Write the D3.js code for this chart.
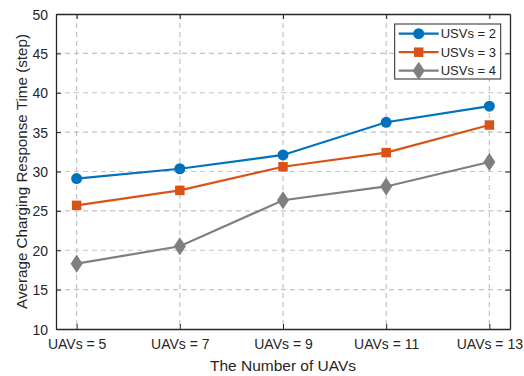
<!DOCTYPE html>
<html>
<head>
<meta charset="utf-8">
<script src="https://cdn.jsdelivr.net/npm/d3@7"></script>
<style>
  body { margin: 0; background: #fff; }
  text { font-family: "Liberation Sans", Arial, sans-serif; fill: #262626; }
</style>
</head>
<body>
<div id="chart"></div>
<script>
// data
var uavCounts = [5, 7, 9, 11, 13];
var tickLabels = ["UAVs = 5", "UAVs = 7", "UAVs = 9", "UAVs = 11", "UAVs = 13"];
var usv2 = [29.1, 30.35, 32.1, 36.25, 38.3];
var usv3 = [25.7, 27.6, 30.6, 32.4, 35.9];
var usv4 = [18.3, 20.5, 26.35, 28.1, 31.2];
var seriesNames = ["USVs = 2", "USVs = 3", "USVs = 4"];
var yTicks = [10, 15, 20, 25, 30, 35, 40, 45, 50];

var width = 524, height = 376;
var margin = { top: 14, right: 14, bottom: 47, left: 56 };
var innerW = width - margin.left - margin.right;
var innerH = height - margin.top - margin.bottom;

var colors = ["#0072BD", "#D95319", "#7F7F7F"];
var markers = ["circle", "square", "diamond"];

var x = d3.scaleLinear().domain([4.6, 13.4]).range([0, innerW]);
var y = d3.scaleLinear().domain([10, 50]).range([innerH, 0]);

var svg = d3.select("#chart").append("svg")
    .attr("width", width)
    .attr("height", height)
    .append("g")
    .attr("transform", "translate(" + margin.left + "," + margin.top + ")");

// grid
svg.selectAll("line.vgrid")
    .data(uavCounts)
    .enter().append("line")
    .attr("x1", function (d) { return x(d); })
    .attr("x2", function (d) { return x(d); })
    .attr("y1", 0).attr("y2", innerH)
    .attr("stroke", "#c4c4c4").attr("stroke-width", 1.2)
    .attr("stroke-dasharray", "5,4");
svg.selectAll("line.hgrid")
    .data(yTicks.slice(1, -1))
    .enter().append("line")
    .attr("x1", 0).attr("x2", innerW)
    .attr("y1", function (d) { return y(d); })
    .attr("y2", function (d) { return y(d); })
    .attr("stroke", "#c4c4c4").attr("stroke-width", 1.2)
    .attr("stroke-dasharray", "5,4");

// axes
var xAxis = d3.axisBottom(x).tickValues(uavCounts)
    .tickFormat(function (d, i) { return tickLabels[i]; })
    .tickSizeInner(-5).tickSizeOuter(0).tickPadding(10);
var gx = svg.append("g").attr("transform", "translate(0," + innerH + ")").call(xAxis);

var yAxis = d3.axisLeft(y).tickValues(yTicks).tickSizeInner(-5).tickSizeOuter(0).tickPadding(8);
var gy = svg.append("g").call(yAxis);

var gr = svg.append("g").attr("transform", "translate(" + innerW + ",0)")
    .call(d3.axisRight(y).tickValues(yTicks).tickSizeInner(-5).tickSizeOuter(0).tickFormat(""));
var gt = svg.append("g")
    .call(d3.axisTop(x).tickValues(uavCounts).tickSizeInner(-5).tickSizeOuter(0).tickFormat(""));

[gx, gy, gr, gt].forEach(function (g) {
    g.selectAll("path.domain").attr("stroke", "#262626").attr("stroke-width", 1.3);
    g.selectAll(".tick line").attr("stroke", "#262626").attr("stroke-width", 1);
    g.selectAll(".tick text").attr("fill", "#262626").style("font-size", "14px")
        .style("font-family", "Liberation Sans, Arial, sans-serif");
});
gy.selectAll(".tick text").attr("dy", "0.36em");

// series
var allSeries = [usv2, usv3, usv4];
var line = d3.line()
    .x(function (d, i) { return x(uavCounts[i]); })
    .y(function (d) { return y(d); });

var symbolTypes = { circle: d3.symbolCircle, square: d3.symbolSquare, diamond: d3.symbolDiamond };
var symbolSizes = { circle: 95, square: 90, diamond: 95 };

function drawMarker(g, type, color) {
    g.append("path")
        .attr("d", d3.symbol().type(symbolTypes[type]).size(symbolSizes[type])())
        .attr("transform", type === "diamond" ? "scale(1.15,1)" : null)
        .attr("fill", color);
}

allSeries.forEach(function (vals, s) {
    svg.append("path")
        .datum(vals)
        .attr("d", line)
        .attr("fill", "none")
        .attr("stroke", colors[s])
        .attr("stroke-width", 2.2);
    svg.selectAll("g.m" + s)
        .data(vals)
        .enter().append("g")
        .attr("transform", function (d, i) { return "translate(" + x(uavCounts[i]) + "," + y(d) + ")"; })
        .each(function () { drawMarker(d3.select(this), markers[s], colors[s]); });
});

// legend
var legend = svg.append("g").attr("transform", "translate(" + (394.7 - margin.left) + "," + (24 - margin.top) + ")");
legend.append("rect")
    .attr("width", 106).attr("height", 55)
    .attr("fill", "#fff").attr("stroke", "#262626").attr("stroke-width", 1);
seriesNames.forEach(function (name, s) {
    var ly = 9.7 + s * 18.5;
    legend.append("line")
        .attr("x1", 4).attr("x2", 44)
        .attr("y1", ly).attr("y2", ly)
        .attr("stroke", colors[s]).attr("stroke-width", 2.2);
    var mg = legend.append("g").attr("transform", "translate(24," + ly + ")");
    drawMarker(mg, markers[s], colors[s]);
    legend.append("text")
        .attr("x", 46).attr("y", ly)
        .attr("dy", "0.36em")
        .style("font-size", "13px")
        .text(name);
});

// axis titles
svg.append("text")
    .attr("x", innerW / 2)
    .attr("y", innerH + 42)
    .attr("text-anchor", "middle")
    .style("font-size", "15.5px")
    .text("The Number of UAVs");

svg.append("text")
    .attr("transform", "translate(" + (27 - margin.left) + "," + (innerH / 2) + ") rotate(-90)")
    .attr("text-anchor", "middle")
    .style("font-size", "15.2px")
    .text("Average Charging Response Time (step)");
</script>
</body>
</html>
